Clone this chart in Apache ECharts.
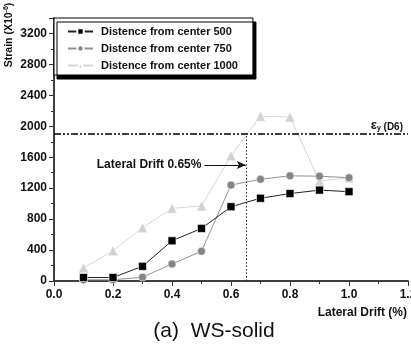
<!DOCTYPE html>
<html>
<head>
<meta charset="utf-8">
<script src="https://cdn.jsdelivr.net/npm/echarts@6/dist/echarts.min.js"></script>
<style>
  html, body { margin: 0; padding: 0; background: #fff; }
  #chart { width: 411px; height: 345px; }
</style>
</head>
<body>
<div id="chart"></div>
<script>
// Lateral drift steps (%)
const drift = [0.1, 0.2, 0.3, 0.4, 0.5, 0.6, 0.7, 0.8, 0.9, 1.0];
// Measured strain (x10^-6) at three distances from the wall centre
const strain500 = [45, 45, 190, 520, 680, 960, 1070, 1130, 1175, 1155];
const strain750 = [15, 15, 50, 220, 385, 1240, 1315, 1360, 1355, 1335];
const strain1000 = [170, 390, 690, 940, 970, 1620, 2130, 2120, 1290, 1335];
const seriesNames = ['Distence from center 500', 'Distence from center 750', 'Distence from center 1000'];
// Reference levels
const yieldStrain = 1900;
const driftMarker = 0.65;
const arrowStart = 0.51;
const arrowLevel = 1500;

const FONT = '"Liberation Sans", Arial, sans-serif';
const pairs = (ys) => drift.map((x, i) => [x, ys[i]]);

const chart = echarts.init(document.getElementById('chart'), null, { renderer: 'canvas' });

const axisLineStyle = { color: '#333', width: 1.5 };
const tickStyle = { color: '#333', width: 1 };

chart.setOption({
  animation: false,
  backgroundColor: '#fff',
  grid: { left: 54, right: 3, top: 18, bottom: 64, containLabel: false, outerBoundsMode: 'none' },
  legend: {
    data: seriesNames,
    left: 54, top: 18,
    orient: 'vertical',
    itemWidth: 25, itemHeight: 8, itemGap: 6,
    padding: [8, 15, 4, 13],
    backgroundColor: '#fff',
    borderColor: '#000', borderWidth: 1,
    shadowColor: '#000', shadowBlur: 0, shadowOffsetX: 3, shadowOffsetY: 4,
    textStyle: { fontFamily: FONT, fontWeight: 'bold', fontSize: 11, color: '#111', padding: [0, 0, 0, 3] }
  },
  xAxis: [
    {
      type: 'value', min: 0, max: 1.2, interval: 0.2, position: 'bottom',
      axisLine: { show: true, lineStyle: axisLineStyle },
      axisTick: { show: true, inside: false, length: 5, lineStyle: tickStyle },
      minorTick: { show: true, splitNumber: 2, length: 3, lineStyle: tickStyle },
      splitLine: { show: false },
      axisLabel: { formatter: (v) => v.toFixed(1), fontFamily: FONT, fontWeight: 'bold', fontSize: 12, color: '#111', margin: 8 }
    },
    {
      type: 'value', min: 0, max: 1.2, interval: 0.2, position: 'top',
      axisLine: { show: true, lineStyle: axisLineStyle },
      axisTick: { show: true, inside: true, length: 4, lineStyle: tickStyle },
      minorTick: { show: true, splitNumber: 2, length: 3, lineStyle: tickStyle },
      splitLine: { show: false },
      axisLabel: { show: false }
    }
  ],
  yAxis: [
    {
      type: 'value', min: 0, max: 3400, interval: 400, position: 'left',
      axisLine: { show: true, lineStyle: axisLineStyle },
      axisTick: { show: true, inside: false, length: 5, lineStyle: tickStyle },
      minorTick: { show: true, splitNumber: 2, length: 3, lineStyle: tickStyle },
      splitLine: { show: false },
      axisLabel: {
        formatter: (v) => (v % 400 === 0 ? String(v) : ''),
        fontFamily: FONT, fontWeight: 'bold', fontSize: 12, color: '#111', margin: 7
      }
    },
    {
      type: 'value', min: 0, max: 3400, interval: 400, position: 'right',
      axisLine: { show: true, lineStyle: axisLineStyle },
      axisTick: { show: true, inside: true, length: 4, lineStyle: tickStyle },
      minorTick: { show: true, splitNumber: 2, length: 3, lineStyle: tickStyle },
      splitLine: { show: false },
      axisLabel: { show: false }
    }
  ],
  series: [
    {
      name: seriesNames[2], type: 'line', data: pairs(strain1000),
      symbol: 'triangle', symbolSize: 10,
      lineStyle: { color: '#d6d6d6', width: 1 },
      itemStyle: { color: '#d2d2d2', borderColor: '#fff', borderWidth: 0.5 },
      z: 2
    },
    {
      name: seriesNames[1], type: 'line', data: pairs(strain750),
      symbol: 'circle', symbolSize: 8,
      lineStyle: { color: '#909090', width: 1 },
      itemStyle: { color: '#858585', borderColor: '#fff', borderWidth: 0.5 },
      z: 3
    },
    {
      name: seriesNames[0], type: 'line', data: pairs(strain500),
      symbol: 'rect', symbolSize: 8,
      lineStyle: { color: '#222', width: 1 },
      itemStyle: { color: '#000', borderColor: '#fff', borderWidth: 0.6 },
      z: 4,
      markLine: {
        silent: true,
        symbol: 'none',
        animation: false,
        data: [
          // Yield strain level
          {
            yAxis: yieldStrain,
            lineStyle: { color: '#000', width: 1.6, type: [7, 2, 2, 2, 2, 2] },
            label: {
              show: true, position: 'insideEndTop', distance: [5, 2],
              formatter: '{e|ε}{sub|y}{t| (D6)}',
              rich: {
                e: { fontFamily: FONT, fontSize: 13, fontWeight: 'bold', color: '#111' },
                sub: { fontFamily: FONT, fontSize: 7, fontWeight: 'bold', color: '#111', verticalAlign: 'bottom', padding: [6, 0, 0, 0] },
                t: { fontFamily: FONT, fontSize: 10, fontWeight: 'bold', color: '#111', padding: [4, 0, 0, 0] }
              }
            }
          },
          // Drift marker (dotted vertical)
          [
            { coord: [driftMarker, 0], lineStyle: { color: '#222', width: 1, type: [1.5, 2] }, label: { show: false } },
            { coord: [driftMarker, yieldStrain] }
          ],
          // Arrow pointing to the drift marker
          [
            {
              coord: [arrowStart, arrowLevel],
              symbol: 'none',
              lineStyle: { color: '#111', width: 1.2, type: 'solid' },
              label: {
                show: true, position: 'start', distance: 3,
                formatter: 'Lateral Drift 0.65%',
                fontFamily: FONT, fontWeight: 'bold', fontSize: 12, color: '#111'
              }
            },
            { coord: [driftMarker, arrowLevel], symbol: 'arrow', symbolSize: [6, 9] }
          ]
        ]
      }
    }
  ],
  graphic: [
    {
      type: 'text', x: 9, y: 35, rotation: Math.PI / 2,
      style: {
        text: 'Strain (X10{sup|-6})',
        fontFamily: FONT, fontWeight: 'bold', fontSize: 10.5, fill: '#111',
        align: 'center', verticalAlign: 'middle',
        rich: {
          sup: { fontFamily: FONT, fontWeight: 'bold', fontSize: 7, fill: '#111', verticalAlign: 'top', padding: [0, 0, 5, 0] }
        }
      }
    },
    {
      type: 'text', x: 407, y: 313,
      style: {
        text: 'Lateral Drift (%)',
        fontFamily: FONT, fontWeight: 'bold', fontSize: 12, fill: '#111',
        align: 'right', verticalAlign: 'middle'
      }
    },
    {
      type: 'text', x: 214, y: 331,
      style: {
        text: '(a)  WS-solid',
        fontFamily: FONT, fontSize: 21, fill: '#111',
        align: 'center', verticalAlign: 'middle'
      }
    }
  ]
});
</script>
</body>
</html>
